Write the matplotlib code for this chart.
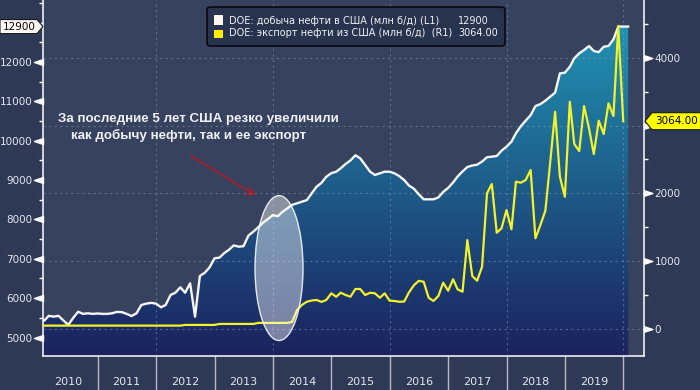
import numpy as np
import pandas as pd
import matplotlib
matplotlib.use("Agg")
import matplotlib.pyplot as plt
import matplotlib.dates as mdates
from matplotlib.patches import Polygon, Ellipse, FancyBboxPatch, Rectangle
from matplotlib.path import Path
from matplotlib.markers import MarkerStyle
from matplotlib.transforms import IdentityTransform
from matplotlib.ticker import FixedLocator, NullFormatter, FuncFormatter

# ---------------- data ----------------
months = pd.date_range("2010-01-01", periods=122, freq="MS")

production = [
    5420, 5430, 5550, 5530, 5550, 5430, 5320, 5500, 5655, 5600, 5615, 5600,
    5610, 5600, 5600, 5615, 5650, 5645, 5600, 5546, 5615, 5826, 5860, 5880,
    5860, 5767, 5826, 6080, 6138, 6275, 6138, 6377, 5528, 6562, 6646, 6784,
    7012, 7030, 7140, 7230, 7340, 7307, 7320, 7590, 7690, 7800, 7920, 8010,
    8110, 8080, 8190, 8280, 8370, 8410, 8450, 8490, 8664, 8830, 8930, 9085,
    9175, 9212, 9300, 9410, 9500, 9630, 9553, 9383, 9212, 9129, 9172, 9212,
    9212, 9170, 9100, 9000, 8860, 8780, 8640, 8511, 8511, 8511, 8560, 8700,
    8800, 8940, 9090, 9220, 9330, 9370, 9390, 9470, 9580, 9594, 9611, 9746,
    9848, 9975, 10190, 10370, 10510, 10650, 10880, 10930, 11016, 11118, 11220, 11712,
    11728, 11880, 12094, 12221, 12304, 12406, 12280, 12250, 12388, 12406, 12576, 12900,
    12900, 12900,
]

exports = [
    50, 50, 50, 50, 50, 50, 50, 50, 50, 50, 50, 50,
    50, 50, 50, 50, 50, 50, 50, 50, 50, 50, 50, 50,
    50, 50, 50, 50, 50, 50, 60, 60, 60, 60, 60, 60,
    60, 75, 75, 75, 75, 75, 75, 75, 75, 90, 90, 90,
    90, 90, 90, 90, 105, 280, 354, 402, 420, 428, 400, 428,
    526, 476, 535, 501, 476, 590, 590, 501, 535, 526, 461, 526,
    417, 413, 402, 405, 540, 645, 710, 697, 461, 413, 487, 683,
    565, 733, 585, 550, 1312, 781, 712, 918, 2001, 2138, 1420, 1485,
    1754, 1470, 2172, 2157, 2197, 2344, 1337, 1533, 1744, 2450, 3204, 2245,
    1950, 3351, 2727, 2624, 3288, 2959, 2580, 3071, 2875, 3327, 3140, 4467,
    3064,
]

prod_last = 12900
exp_last = 3064.00
left_ticks = [5000, 6000, 7000, 8000, 9000, 10000, 11000, 12000]
right_ticks = [0, 1000, 2000, 3000, 4000]
right_hidden = [3000]  # covered by the last-value tag in the reference
legend_labels = ["DOE: добыча нефти в США (млн б/д) (L1)",
                 "DOE: экспорт нефти из США (млн б/д)  (R1)"]
note_lines = ["За последние 5 лет США резко увеличили",
              "как добычу нефти, так и ее экспорт"]

# ---------------- figure ----------------
W, H = 700, 390
fig = plt.figure(figsize=(7, 3.9), dpi=100)
fig.patch.set_facecolor("#2e3a55")

L, R, B, T = 43, 644, 356, 0
ax = fig.add_axes([L / W, (H - B) / H, (R - L) / W, (B - T) / H])
ax.set_facecolor("#36425e")
ax2 = ax.twinx()

x = mdates.date2num(months)
xlo = mdates.date2num(pd.Timestamp("2010-01-24"))
xhi = mdates.date2num(pd.Timestamp("2020-05-10"))
ylo, yhi = 4530, 13575
y2lo, y2hi = -398, 4851

# gradient area under production
top = np.array([33, 155, 185]) / 255
bot = np.array([27, 34, 94]) / 255
g = np.linspace(0, 1, 256)[:, None, None]
grad = bot + (top - bot) * g
im = ax.imshow(grad, extent=[xlo, xhi, ylo, yhi], origin="lower",
               aspect="auto", zorder=1, interpolation="bilinear")
poly = ax.fill_between(x, production, ylo, facecolor="none", edgecolor="none")
im.set_clip_path(poly.get_paths()[0], ax.transData)

# grid (on ax2, so it lies above the fill)
grid_kw = dict(color="#8c9bb8", alpha=0.5, lw=0.8, dashes=(2, 3), zorder=1.5)
for yr in [2012, 2014, 2016, 2018, 2020]:
    ax2.axvline(mdates.date2num(pd.Timestamp(f"{yr}-01-01")), **grid_kw)
for v in right_ticks:
    ax2.axhline(v, **grid_kw)

# lines
ax2.plot(x, production, transform=ax.transData, color="#f6f6f6", lw=1.7,
         zorder=2, solid_joinstyle="round")
ax2.plot(x[:len(exports)], exports, color="#f2f22c", lw=1.6, zorder=3,
         solid_joinstyle="round")

ax.set_xlim(xlo, xhi)
ax.set_ylim(ylo, yhi)
ax2.set_ylim(y2lo, y2hi)

# spines
for s in ["top", "right"]:
    ax.spines[s].set_visible(False)
for s in ["left", "bottom"]:
    ax.spines[s].set_color("white")
    ax.spines[s].set_linewidth(1.1)
for s in ["top", "left", "bottom"]:
    ax2.spines[s].set_visible(False)
ax2.spines["right"].set_color("white")
ax2.spines["right"].set_linewidth(1.1)

lab_col = "#e2e6ef"
# left y ticks
ax.yaxis.set_major_locator(FixedLocator(left_ticks))
ax.yaxis.set_minor_locator(FixedLocator([5500, 6500, 7500, 8500, 9500, 10500,
                                         11500, 12500, 13000, 13500]))
ax.tick_params(axis="y", which="major", length=0, pad=7.5, labelsize=7.5,
               labelcolor=lab_col)
ax.tick_params(axis="y", which="minor", length=3, width=1, color="white")
tri_l = Path([(0, 0.33), (-1, 0), (0, -0.33), (0, 0.33)],
             [Path.MOVETO, Path.LINETO, Path.LINETO, Path.CLOSEPOLY])
ax.plot(np.zeros(len(left_ticks)), left_ticks, transform=ax.get_yaxis_transform(),
        marker=MarkerStyle(tri_l), markersize=13, color="white", ls="none",
        clip_on=False, zorder=5)

# right y ticks
ax2.yaxis.set_major_locator(FixedLocator(right_ticks))
ax2.yaxis.set_major_formatter(FuncFormatter(
    lambda v, p: "" if v in right_hidden else f"{v:.0f}"))
ax2.yaxis.set_minor_locator(FixedLocator([500, 1500, 2500, 3500, 4500]))
ax2.tick_params(axis="y", which="major", length=0, pad=7.5, labelsize=7.5,
                labelcolor=lab_col)
ax2.tick_params(axis="y", which="minor", length=3, width=1, color="white")
tri_r = Path([(0, 0.33), (1, 0), (0, -0.33), (0, 0.33)],
             [Path.MOVETO, Path.LINETO, Path.LINETO, Path.CLOSEPOLY])
ax2.plot(np.ones(len(right_ticks)), right_ticks, transform=ax2.get_yaxis_transform(),
         marker=MarkerStyle(tri_r), markersize=12, color="white", ls="none",
         clip_on=False, zorder=5)

# x ticks: separators at year starts, labels mid-year
ax.xaxis.set_major_locator(mdates.YearLocator())
ax.xaxis.set_major_formatter(NullFormatter())
ax.xaxis.set_minor_locator(mdates.MonthLocator(bymonth=7, bymonthday=1))
ax.xaxis.set_minor_formatter(mdates.DateFormatter("%Y"))
ax.tick_params(axis="x", which="major", length=25, width=1, color="#b3bac6")
ax.tick_params(axis="x", which="minor", length=0, pad=15, labelsize=8,
               labelcolor=lab_col)

# ellipse highlight
ax2.add_patch(Ellipse((0.3927, 0.247), 0.0799, 0.407, transform=ax2.transAxes,
                      facecolor=(1, 1, 1, 0.42), edgecolor=(1, 1, 1, 0.85),
                      lw=1, zorder=6))

# annotation text + arrow
note_kw = dict(color="#eef1f6", fontsize=9.6, fontweight="bold",
               family="Liberation Sans", va="center", ha="left")
fig.text(58 / W, (H - 119) / H, note_lines[0], **note_kw)
fig.text(71 / W, (H - 135) / H, note_lines[1], **note_kw)
ax.annotate("", xy=(258, H - 197), xytext=(188, H - 154),
            xycoords="figure pixels", textcoords="figure pixels",
            arrowprops=dict(arrowstyle="->", color="#a51e2b", lw=1.3,
                            mutation_scale=14))

# legend box
fig.add_artist(FancyBboxPatch((207 / W, (H - 46) / H), 298 / W, 39 / H,
                              boxstyle="round,pad=0,rounding_size=0.006",
                              transform=fig.transFigure, facecolor="#28344e",
                              edgecolor="black", lw=1, zorder=10))
fig.add_artist(Rectangle((214 / W, (H - 25) / H), 9 / W, 10 / H,
                         transform=fig.transFigure, facecolor="#fff5f0",
                         edgecolor="none", zorder=11))
fig.add_artist(Rectangle((214 / W, (H - 38) / H), 9 / W, 8 / H,
                         transform=fig.transFigure, facecolor="#ffee00",
                         edgecolor="none", zorder=11))
leg_txt = dict(color="#eef0f4", fontsize=7, va="center", ha="left", zorder=12)
fig.text(229 / W, (H - 21.5) / H, legend_labels[0], **leg_txt)
fig.text(229 / W, (H - 33.5) / H, legend_labels[1], **leg_txt)
fig.text(458 / W, (H - 21.5) / H, f"{prod_last}", **leg_txt)
fig.text(458 / W, (H - 33.5) / H, f"{exp_last:.2f}", **leg_txt)

# value tags
yd = ax.transData.transform((xlo, prod_last))[1]
fig.add_artist(Polygon([(0, yd + 7), (37, yd + 7), (43, yd), (37, yd - 7), (0, yd - 7)],
                       closed=True, transform=IdentityTransform(),
                       facecolor="#fffaf6", edgecolor="#1a1a1a", lw=0.8, zorder=13))
fig.text(19, yd, f"{prod_last}", transform=IdentityTransform(), color="black",
         fontsize=7.5, ha="center", va="center", zorder=14)

yd2 = ax2.transData.transform((xlo, exp_last))[1]
fig.add_artist(Polygon([(645, yd2), (652, yd2 + 8.5), (701, yd2 + 8.5),
                        (701, yd2 - 8.5), (652, yd2 - 8.5)],
                       closed=True, transform=IdentityTransform(),
                       facecolor="#ffff00", edgecolor="#1a1a1a", lw=0.8, zorder=13))
fig.text(655, yd2, f"{exp_last:.2f}", transform=IdentityTransform(), color="black",
         fontsize=7.5, ha="left", va="center", zorder=14)

fig.savefig("out.png", dpi=100, facecolor=fig.get_facecolor())
